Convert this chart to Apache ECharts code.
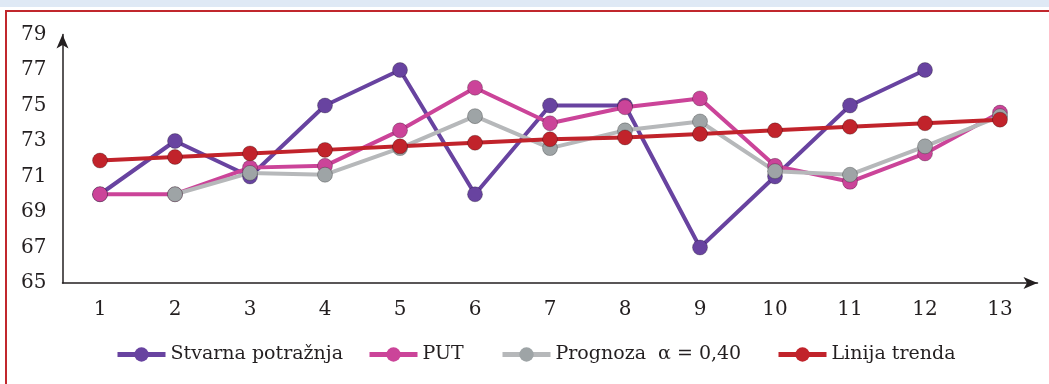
<!DOCTYPE html>
<html>
<head>
<meta charset="utf-8" />
<title>Trend</title>
<style>
  html, body { margin: 0; padding: 0; background: #fff; }
  #strip { position: absolute; left: 0; top: 0; width: 1049px; height: 7px; background: #dfe9f5; }
  #frame { position: absolute; left: 5px; top: 10px; width: 1044px; height: 374px;
           border-top: 2px solid #c1272d; border-left: 2px solid #c1272d; box-sizing: border-box; }
  #main { position: absolute; left: 0; top: 0; width: 1049px; height: 384px; }
</style>
</head>
<body>
<div id="strip"></div>
<div id="frame"></div>
<div id="main"></div>
<script src="https://cdn.jsdelivr.net/npm/echarts@6/dist/echarts.min.js"></script>
<script>
  var periods = ['1', '2', '3', '4', '5', '6', '7', '8', '9', '10', '11', '12', '13'];
  var stvarna = [70, 73, 71, 75, 77, 70, 75, 75, 67, 71, 75, 77, '-'];
  var put = [70, 70, 71.5, 71.6, 73.6, 76, 74, 74.9, 75.4, 71.6, 70.7, 72.3, 74.6];
  var prognoza = ['-', 70, 71.2, 71.1, 72.6, 74.4, 72.6, 73.6, 74.1, 71.3, 71.1, 72.7, 74.4];
  var trend = [71.9, 72.1, 72.3, 72.5, 72.7, 72.9, 73.1, 73.2, 73.4, 73.6, 73.8, 74.0, 74.2];

  var names = ['Stvarna potražnja', 'PUT', 'Prognoza  α = 0,40', 'Linija trenda'];
  var colors = ['#6843a0', '#cb4499', '#b6b8ba', '#c1232b'];
  var dotColors = ['#6843a0', '#cb4499', '#9ea4a6', '#c1232b'];
  var font = 'DejaVu Serif';
  var ink = '#231f20';

  var chart = echarts.init(document.getElementById('main'));

  function mkSeries(i, data) {
    return {
      name: names[i],
      type: 'line',
      data: data,
      symbol: 'circle',
      symbolSize: 15,
      lineStyle: { width: 4, color: colors[i] },
      itemStyle: { color: dotColors[i], borderColor: 'rgba(0,0,0,0.25)', borderWidth: 1 },
      emphasis: { disabled: true }
    };
  }

  function mkLegend(i, left) {
    return {
      data: [names[i]],
      left: left,
      top: 345,
      padding: 0,
      itemWidth: 48,
      itemHeight: 18,
      itemGap: 4,
      lineStyle: { width: 5 },
      itemStyle: { borderWidth: 0 },
      textStyle: { fontFamily: font, fontSize: 19, color: ink }
    };
  }

  chart.setOption({
    animation: false,
    legend: [mkLegend(0, 115), mkLegend(1, 367), mkLegend(2, 500), mkLegend(3, 776)],
    grid: { left: 62.5, right: 11.5, top: 34.5, bottom: 101 },
    xAxis: {
      type: 'category',
      data: periods,
      boundaryGap: true,
      axisLine: { lineStyle: { color: ink, width: 1.5 }, symbol: ['none', 'arrow'], symbolSize: [9, 14] },
      axisTick: { show: false },
      axisLabel: { fontFamily: font, fontSize: 20, color: ink, margin: 17 }
    },
    yAxis: {
      type: 'value',
      min: 65,
      max: 79,
      interval: 2,
      splitLine: { show: false },
      axisLine: { show: true, lineStyle: { color: ink, width: 1.5 }, symbol: ['none', 'arrow'], symbolSize: [9, 14] },
      axisTick: { show: false },
      axisLabel: { fontFamily: font, fontSize: 20, color: ink, margin: 16 }
    },
    series: [
      mkSeries(0, stvarna),
      mkSeries(1, put),
      mkSeries(2, prognoza),
      mkSeries(3, trend)
    ]
  });
</script>
</body>
</html>
